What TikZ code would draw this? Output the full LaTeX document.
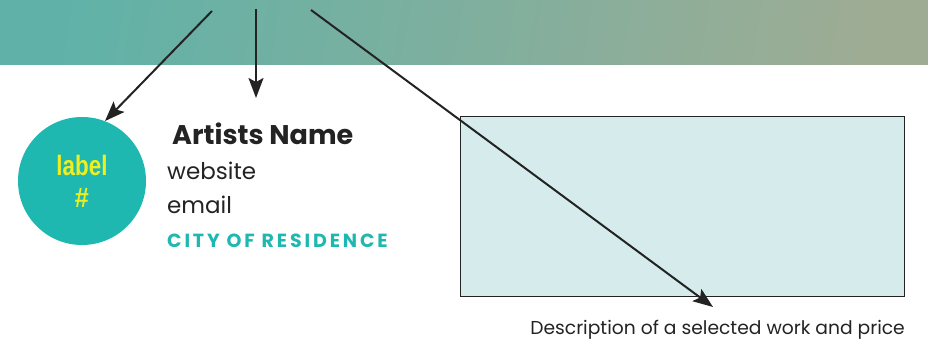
\documentclass[tikz,border=0pt]{standalone}
\usepackage{fontspec}
\setmainfont{Poppins}
\newfontfamily\labelfont{Liberation Sans}
\usetikzlibrary{arrows.meta, positioning}

\definecolor{bandleft}{RGB}{96,178,168}
\definecolor{bandright}{RGB}{158,172,148}
\definecolor{tealdot}{RGB}{31,184,176}
\definecolor{labelyellow}{RGB}{240,238,30}
\definecolor{framefill}{RGB}{214,236,236}
\definecolor{inkgrey}{RGB}{35,35,35}

\tikzset{
    pointer/.style={-{Stealth[length=20pt, width=15pt, inset=4pt]}, line width=2pt, inkgrey},
    infotext/.style={anchor=base west, inner sep=0pt, text=inkgrey, font=\fontsize{23}{26}\selectfont}
}

\begin{document}
\begin{tikzpicture}[x=1pt, y=-1pt]
    \useasboundingbox (0, 0) rectangle (928, 339);

    % header band
    \shade[left color=bandleft, right color=bandright, shading angle=80] (0, 0) rectangle (928, 65);

    \node[circle, fill=tealdot, minimum size=128pt, inner sep=0pt, align=center,
        text=labelyellow, font=\labelfont\bfseries\fontsize{28}{32}\selectfont] (dot) at (82, 181)
        {\scalebox{0.8}[1]{label}\\\scalebox{0.9}[1]{\#}};

    \node[infotext, font=\bfseries\fontsize{27}{30}\selectfont] (name) at (172, 145) {Artists Name};
    \node[infotext] (web) at (167, 179) {website};
    \node[infotext] (mail) at (167, 213) {email};
    \node[infotext, text=tealdot, font=\bfseries\fontsize{19}{22}\selectfont] (city) at (167, 247)
        {\addfontfeature{LetterSpace=15}CITY OF RESIDENCE};

    \draw[inkgrey, line width=1pt, fill=framefill] (460, 117) rectangle (904, 296);
    \node[anchor=base east, inner sep=0pt, text=inkgrey, font=\fontsize{18.7}{22}\selectfont] (caption)
        at (905, 334) {Description of a selected work and price};

    \coordinate (startA) at (212, 11);
    \coordinate (startB) at (256, 9);
    \coordinate (startC) at (311, 10);
    \coordinate (endB) at (256, 98);
    \coordinate (endC) at (713, 307);

    \draw[pointer] (startA) -- (dot.69);
    \draw[pointer] (startB) -- (endB);
    \draw[pointer] (startC) -- (endC);
\end{tikzpicture}
\end{document}
